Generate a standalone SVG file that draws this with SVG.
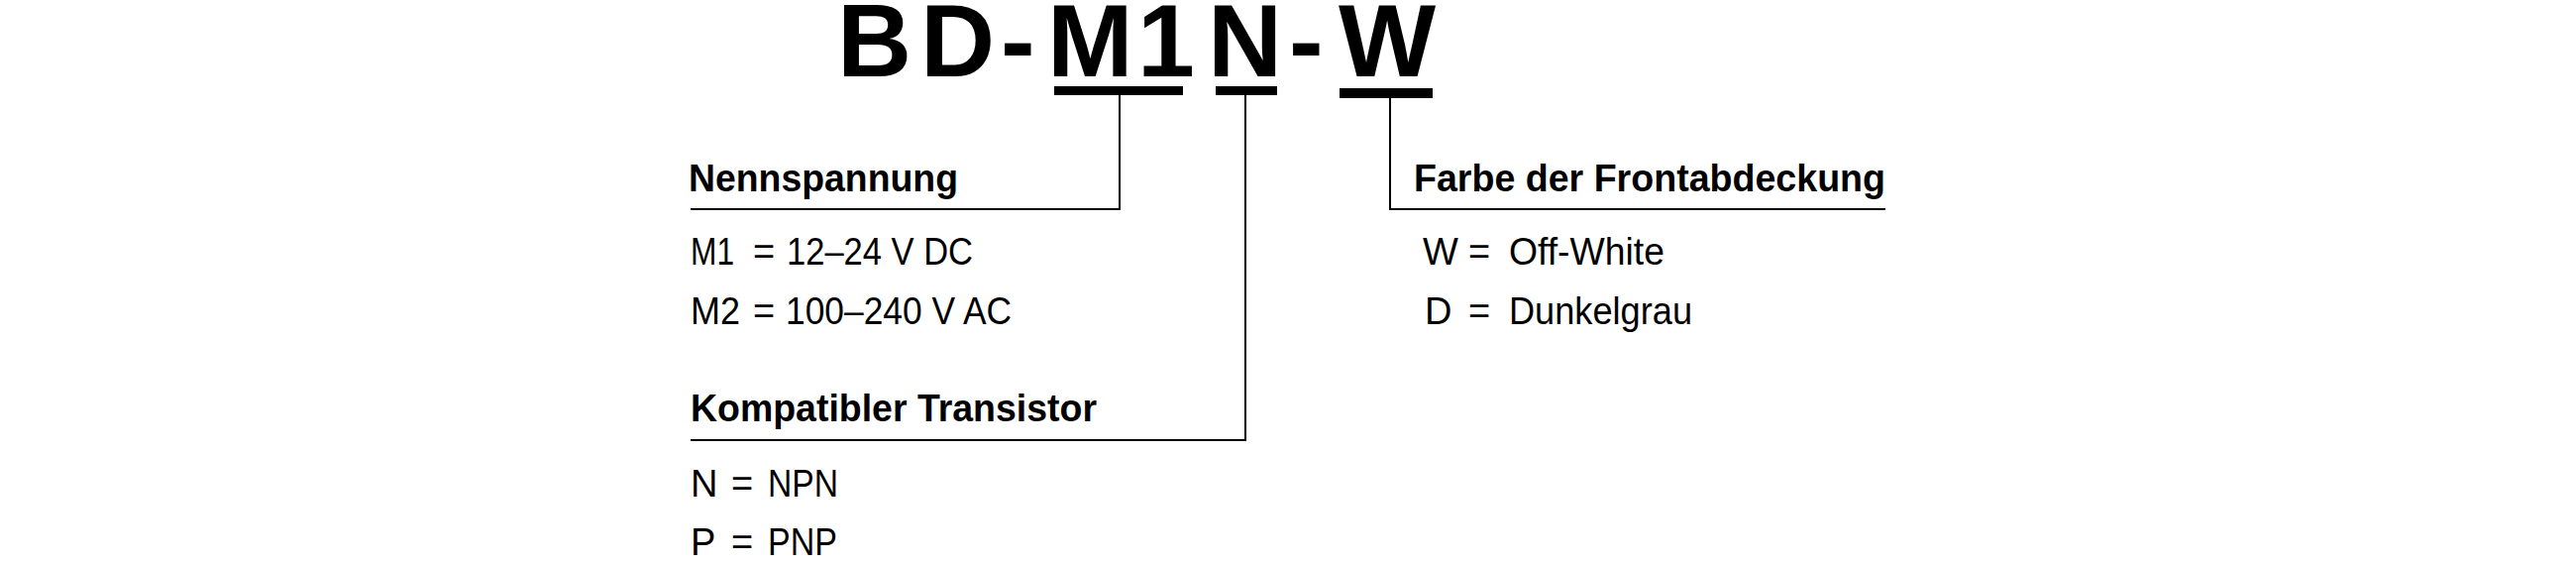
<svg xmlns="http://www.w3.org/2000/svg" width="2600" height="570" viewBox="0 0 2600 570">
<style>
text{font-family:"Liberation Sans",Arial,sans-serif;fill:#000}
.title{font-size:104px;font-weight:bold}
.head{font-size:38px;font-weight:bold}
.reg{font-size:38px}
.bar{fill:#000}
.conn{stroke:#000;stroke-width:2;fill:none}
</style>
<rect width="2600" height="570" fill="#fff"/>
<g id="title">
<text class="title" y="77" x="845 929 1010 1057 1148 1219 1301 1351">BD-M1N-W</text>
<rect class="bar" x="1064" y="87" width="130" height="9"/>
<rect class="bar" x="1227" y="87" width="62" height="9"/>
<rect class="bar" x="1352" y="89" width="94" height="10"/>
</g>
<g id="connectors">
<polyline class="conn" points="1130,96 1130,211 697,211"/>
<polyline class="conn" points="1257,96 1257,444 697,444"/>
<polyline class="conn" points="1403,99 1403,211 1903,211"/>
</g>
<g id="nennspannung">
<text class="head" x="695" y="193" textLength="272" lengthAdjust="spacingAndGlyphs">Nennspannung</text>
<text class="reg" x="697" y="267" textLength="44" lengthAdjust="spacingAndGlyphs">M1</text>
<text class="reg" x="760" y="267">=</text>
<text class="reg" x="794" y="267" textLength="188" lengthAdjust="spacingAndGlyphs">12–24 V DC</text>
<text class="reg" x="697" y="327" textLength="50" lengthAdjust="spacingAndGlyphs">M2</text>
<text class="reg" x="760" y="327">=</text>
<text class="reg" x="793" y="327" textLength="228" lengthAdjust="spacingAndGlyphs">100–240 V AC</text>
</g>
<g id="transistor">
<text class="head" x="697" y="425" textLength="410" lengthAdjust="spacingAndGlyphs">Kompatibler Transistor</text>
<text class="reg" x="697" y="501">N</text>
<text class="reg" x="738" y="501">=</text>
<text class="reg" x="775" y="501" textLength="71" lengthAdjust="spacingAndGlyphs">NPN</text>
<text class="reg" x="697" y="560">P</text>
<text class="reg" x="738" y="560">=</text>
<text class="reg" x="775" y="560" textLength="70" lengthAdjust="spacingAndGlyphs">PNP</text>
</g>
<g id="farbe">
<text class="head" x="1427" y="193" textLength="476" lengthAdjust="spacingAndGlyphs">Farbe der Frontabdeckung</text>
<text class="reg" x="1436" y="267">W</text>
<text class="reg" x="1482" y="267">=</text>
<text class="reg" x="1523" y="267" textLength="157" lengthAdjust="spacingAndGlyphs">Off-White</text>
<text class="reg" x="1438" y="327">D</text>
<text class="reg" x="1482" y="327">=</text>
<text class="reg" x="1523" y="327" textLength="185" lengthAdjust="spacingAndGlyphs">Dunkelgrau</text>
</g>
</svg>
